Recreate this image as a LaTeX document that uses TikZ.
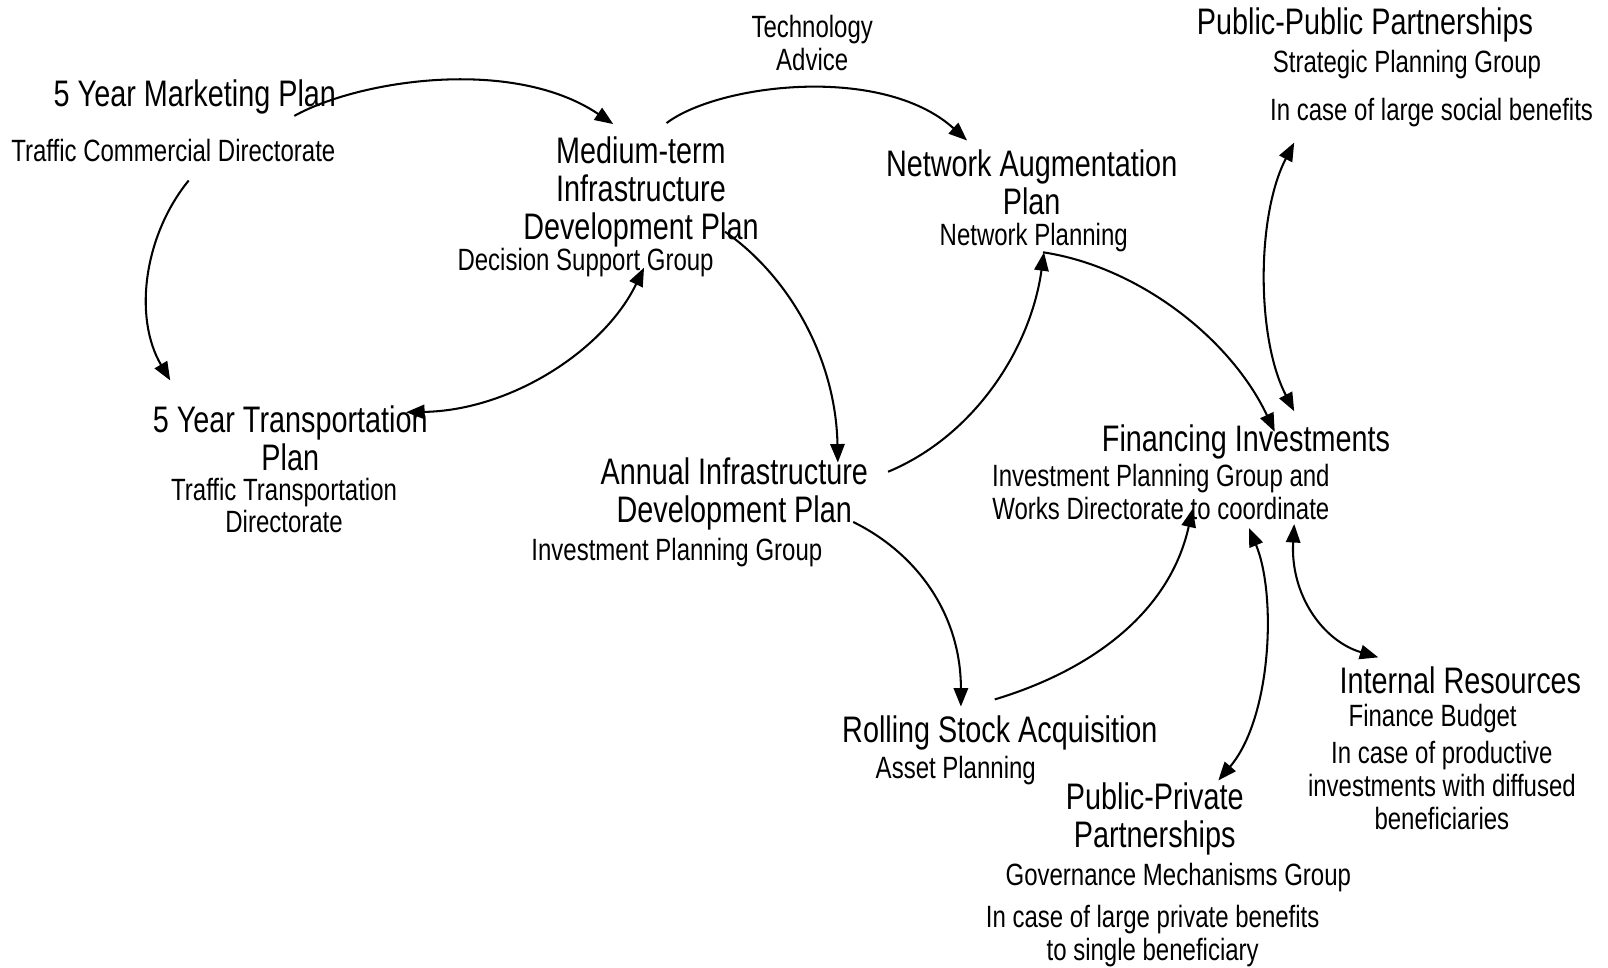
\documentclass[tikz,border=0pt]{standalone}
\usepackage{fontspec}
\setmainfont[FakeStretch=0.78]{Liberation Sans}
\usetikzlibrary{arrows.meta}
\begin{document}
\begin{tikzpicture}[x=0.5pt,y=-0.5pt,
  big/.style={inner sep=0pt,align=center,font=\fontsize{18}{18.5}\selectfont},
  small/.style={inner sep=0pt,align=center,font=\fontsize{15}{16}\selectfont},
  arr/.style={-{Triangle[length=9pt,width=7pt]},line width=1pt},
  dbl/.style={{Triangle[length=9pt,width=7pt]}-{Triangle[length=9pt,width=7pt]},line width=1pt}]
\useasboundingbox (0,0) rectangle (1568,943);
% nodes
\node[small] (tech) at (792,42) {Technology\\Advice};
\node[big] (mkt) at (190,95) {5 Year Marketing Plan};
\node[small] (mktsub) at (169,147) {Traffic Commercial Directorate};
\node[big] (mtp) at (625,187) {Medium-term\\Infrastructure\\Development Plan};
\node[small] (mtpsub) at (571,256) {Decision Support Group};
\node[big] (nap) at (1006,178) {Network Augmentation\\Plan};
\node[small] (napsub) at (1008,232) {Network Planning};
\node[big] (ppp) at (1331,24) {Public-Public Partnerships};
\node[small] (pppsub) at (1372,63) {Strategic Planning Group};
\node[small] (pppnote) at (1396,110) {In case of large social benefits};
\node[big] (ytp) at (283,427) {5 Year Transportation\\Plan};
\node[small] (ytpsub) at (277,493) {Traffic Transportation\\Directorate};
\node[big] (aid) at (716,482) {Annual Infrastructure\\Development Plan};
\node[small] (aidsub) at (660,539) {Investment Planning Group};
\node[big] (fin) at (1215,431) {Financing Investments};
\node[small] (finsub) at (1132,480) {Investment Planning Group and\\Works Directorate to coordinate};
\node[big] (ir) at (1424,663) {Internal Resources};
\node[small] (irsub) at (1397,701) {Finance Budget};
\node[small] (irnote) at (1406,766) {In case of productive\\investments with diffused\\beneficiaries};
\node[big] (rsa) at (975,715) {Rolling Stock Acquisition};
\node[small] (rsasub) at (932,751) {Asset Planning};
\node[big] (pvp) at (1126,799) {Public-Private\\Partnerships};
\node[small] (pvpsub) at (1149,856) {Governance Mechanisms Group};
\node[small] (pvpnote) at (1124,913) {In case of large private benefits\\to single beneficiary};
% connector end points
\coordinate (a1s) at (287,113); \coordinate (a1e) at (598,121);
\coordinate (a2s) at (650,120); \coordinate (a2e) at (943,137);
\coordinate (a3s) at (184,176); \coordinate (a3e) at (166,371);
\coordinate (a4s) at (628,261); \coordinate (a4e) at (396,402);
\coordinate (a5s) at (707,226); \coordinate (a5e) at (817,451);
\coordinate (a6s) at (866,460); \coordinate (a6e) at (1018,246);
\coordinate (a7s) at (1017,246); \coordinate (a7e) at (1243,421);
\coordinate (a8s) at (1262,139); \coordinate (a8e) at (1262,401);
\coordinate (a9s) at (832,509); \coordinate (a9e) at (937,689);
\coordinate (a10s) at (970,682); \coordinate (a10e) at (1163,496);
\coordinate (a11s) at (1218,515); \coordinate (a11e) at (1188,761);
\coordinate (a12s) at (1262,511); \coordinate (a12e) at (1344,641);
% connectors
\draw[arr] (a1s) .. controls (350,78) and (500,55) .. (a1e);
\draw[arr] (a2s) .. controls (700,82) and (860,62) .. (a2e);
\draw[arr] (a3s) .. controls (140,230) and (130,310) .. (a3e);
\draw[dbl] (a4s) .. controls (590,340) and (500,400) .. (a4e);
\draw[arr] (a5s) .. controls (770,270) and (815,350) .. (a5e);
\draw[arr] (a6s) .. controls (950,425) and (1005,340) .. (a6e);
\draw[arr] (a7s) .. controls (1110,260) and (1200,330) .. (a7e);
\draw[dbl] (a8s) .. controls (1225,210) and (1225,330) .. (a8e);
\draw[arr] (a9s) .. controls (895,540) and (937,600) .. (a9e);
\draw[arr] (a10s) .. controls (1060,655) and (1140,600) .. (a10e);
\draw[dbl] (a11s) .. controls (1245,580) and (1240,700) .. (a11e);
\draw[dbl] (a12s) .. controls (1258,580) and (1290,625) .. (a12e);
\end{tikzpicture}
\end{document}
